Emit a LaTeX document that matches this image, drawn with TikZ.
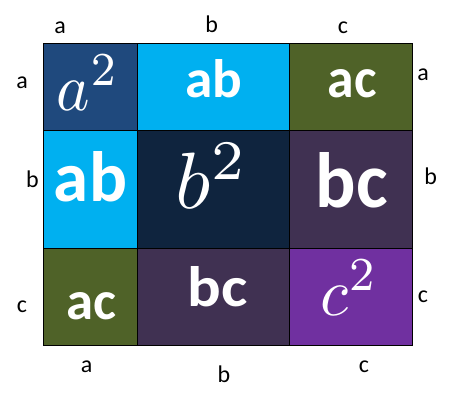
\documentclass[tikz,border=0pt]{standalone}
\usepackage{fontspec}
\setmainfont{Carlito}
\usepackage{graphicx}
\usepackage{tikz}
\usetikzlibrary{positioning}
\definecolor{SqA}{HTML}{1F497D}
\definecolor{SqB}{HTML}{0F243E}
\definecolor{SqC}{HTML}{7030A0}
\definecolor{RectAB}{HTML}{00B0F0}
\definecolor{RectAC}{HTML}{4F6228}
\definecolor{RectBC}{HTML}{403152}

\begin{document}
\begin{tikzpicture}[
  x=1pt, y=-1pt,
  cell/.style={draw=black, line width=0.6pt, fill=#1, anchor=north west,
               inner sep=0pt, outer sep=0pt},
  term/.style={text=white, inner sep=0pt, font=\bfseries},
  side/.style={inner sep=0pt, font=\fontsize{24}{24}\selectfont},
]
  \useasboundingbox (0,0) rectangle (453,406);

  % row 1
  \node[cell=SqA, minimum width=94pt, minimum height=86.7pt] (aa) at (43.3,43.3) {};
  \node[cell=RectAB, minimum width=152pt, minimum height=86.7pt] (ab1) at (137.3,43.3) {};
  \node[cell=RectAC, minimum width=123.4pt, minimum height=86.7pt] (ac1) at (289.3,43.3) {};
  % row 2
  \node[cell=RectAB, minimum width=94pt, minimum height=118.3pt] (ab2) at (43.3,130) {};
  \node[cell=SqB, minimum width=152pt, minimum height=118.3pt] (bb) at (137.3,130) {};
  \node[cell=RectBC, minimum width=123.4pt, minimum height=118.3pt] (bc1) at (289.3,130) {};
  % row 3
  \node[cell=RectAC, minimum width=94pt, minimum height=96.7pt] (ac2) at (43.3,248.3) {};
  \node[cell=RectBC, minimum width=152pt, minimum height=96.7pt] (bc2) at (137.3,248.3) {};
  \node[cell=SqC, minimum width=123.4pt, minimum height=96.7pt] (cc) at (289.3,248.3) {};

  % terms
  \node[term] (taa) at (88,82.5) {\resizebox{62pt}{55pt}{$a^2$}};
  \node[term] (tab1) at (214,79) {\resizebox{57pt}{38pt}{ab}};
  \node[term] (tac1) at (352,84) {\resizebox{49pt}{28pt}{ac}};
  \node[term] (tab2) at (90.5,176.7) {\resizebox{73pt}{50pt}{ab}};
  \node[term] (tbb) at (212,175.5) {\resizebox{72pt}{65pt}{$b^2$}};
  \node[term] (tbc1) at (352,180.5) {\resizebox{72pt}{55pt}{bc}};
  \node[term] (tac2) at (91,306.7) {\resizebox{50pt}{27pt}{ac}};
  \node[term] (tbc2) at (217.5,286.7) {\resizebox{60pt}{40pt}{bc}};
  \node[term] (tcc) at (349.5,287.5) {\resizebox{57pt}{55pt}{$c^2$}};

  % side lengths
  \node[side] (ta) at (60,27.3) {a};
  \node[side] (tb) at (211.7,24.2) {b};
  \node[side] (tc) at (343,27.3) {c};
  \node[side] (la) at (22,83) {a};
  \node[side] (lb) at (32.5,179) {b};
  \node[side] (lc) at (22,307) {c};
  \node[side] (ra) at (423,75) {a};
  \node[side] (rb) at (430.8,175.8) {b};
  \node[side] (rc) at (423,297) {c};
  \node[side] (ba) at (86.7,366.7) {a};
  \node[side] (bb2) at (224,374) {b};
  \node[side] (bc3) at (364,366.7) {c};
\end{tikzpicture}
\end{document}
